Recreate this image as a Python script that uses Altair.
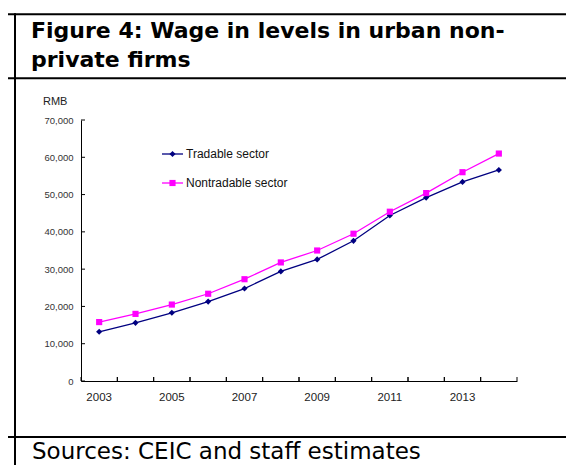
import altair as alt
import pandas as pd

# ---- data -------------------------------------------------------------
years = [2003, 2004, 2005, 2006, 2007, 2008, 2009, 2010, 2011, 2012, 2013, 2014]
tradable = [13200, 15600, 18300, 21300, 24800, 29400, 32600, 37600, 44400, 49200, 53400, 56600]
nontradable = [15800, 18000, 20500, 23400, 27300, 31800, 35000, 39500, 45400, 50400, 56000, 61000]
series_names = ["Tradable sector", "Nontradable sector"]
y_ticks = [0, 10000, 20000, 30000, 40000, 50000, 60000, 70000]

title_line1 = "Figure 4: Wage in levels in urban non-"
title_line2 = "private firms"
source_text = "Sources: CEIC and staff estimates"
unit_text = "RMB"

rows = []
for y, t, n in zip(years, tradable, nontradable):
    rows.append({"year": y, "series": series_names[0], "value": t})
    rows.append({"year": y, "series": series_names[1], "value": n})
df = pd.DataFrame(rows)
years_df = pd.DataFrame({"year": years})
yt_df = pd.DataFrame({"value": y_ticks})

NAVY = "#000080"
MAGENTA = "#FF00FF"
W, H = 436, 261
one = alt.Data(values=[{}])
SMALL = "Liberation Sans"
BIG = "DejaVu Sans"

xscale = alt.Scale(type="band", paddingInner=0, paddingOuter=0)
yscale = alt.Scale(domain=[0, 70000], nice=False)
color_scale = alt.Scale(domain=series_names, range=[NAVY, MAGENTA])
shape_scale = alt.Scale(domain=series_names, range=["diamond", "square"])

x_axis = alt.Axis(
    title=None, labelAngle=0, ticks=False, domainColor="black", domainWidth=1,
    labelFont=SMALL, labelFontSize=11.5, labelColor="#222222", labelPadding=10,
    labelExpr="datum.value % 2 == 1 ? datum.label : ''", labelOverlap=False, grid=False,
)
y_axis = alt.Axis(
    title=None, values=y_ticks, format=",.0f", ticks=False, grid=False,
    domainColor="black", domainWidth=1, labelFont=SMALL, labelFontSize=9.5,
    labelColor="#333333", labelPadding=8, labelOverlap=False,
)

lines = alt.Chart(df).mark_line(strokeWidth=1.3).encode(
    x=alt.X("year:O", scale=xscale, axis=x_axis, bandPosition=0.5),
    y=alt.Y("value:Q", scale=yscale, axis=y_axis),
    color=alt.Color("series:N", scale=color_scale, legend=None),
    detail="series:N",
)
points = alt.Chart(df).mark_point(filled=True, opacity=1, size=38).encode(
    x=alt.X("year:O", scale=xscale, axis=x_axis, bandPosition=0.5),
    y=alt.Y("value:Q", scale=yscale, axis=y_axis),
    color=alt.Color("series:N", scale=color_scale, legend=None),
    shape=alt.Shape("series:N", scale=shape_scale, legend=None),
)

# inward tick marks
xticks0 = alt.Chart(years_df).mark_rule(color="black", strokeWidth=1).encode(
    x=alt.X("year:O", scale=xscale, axis=x_axis, bandPosition=0), y=alt.value(H), y2=alt.value(H - 4)
)
xticks1 = alt.Chart(years_df).mark_rule(color="black", strokeWidth=1).encode(
    x=alt.X("year:O", scale=xscale, axis=x_axis, bandPosition=1), y=alt.value(H), y2=alt.value(H - 4)
)
yticks = alt.Chart(yt_df).mark_rule(color="black", strokeWidth=1).encode(
    y=alt.Y("value:Q", scale=yscale, axis=y_axis), x=alt.value(0), x2=alt.value(4)
)

# legend
legend_layers = []
for name, col, shp, ly in [(series_names[0], NAVY, "diamond", 34), (series_names[1], MAGENTA, "square", 63)]:
    legend_layers.append(alt.Chart(one).mark_rule(color=col, strokeWidth=1.3).encode(
        x=alt.value(81), x2=alt.value(102), y=alt.value(ly)))
    legend_layers.append(alt.Chart(one).mark_point(filled=True, opacity=1, color=col, shape=shp, size=38).encode(
        x=alt.value(91.5), y=alt.value(ly)))
    legend_layers.append(alt.Chart(one).mark_text(text=name, align="left", baseline="middle",
                                                  font=SMALL, fontSize=12, color="#111111").encode(
        x=alt.value(105), y=alt.value(ly)))

# frame and texts
def hline(y):
    return alt.Chart(one).mark_rule(color="black", strokeWidth=2).encode(
        x=alt.value(-90), x2=alt.value(W + 60), y=alt.value(y))

frame = [
    hline(-105.7), hline(-41.7), hline(317),
    alt.Chart(one).mark_rule(color="black", strokeWidth=2).encode(
        x=alt.value(-66), y=alt.value(-106.7), y2=alt.value(H + 95)),
]
texts = [
    alt.Chart(one).mark_text(text=title_line1, align="left", baseline="alphabetic", font=BIG,
                             fontWeight="bold", fontSize=22, color="black").encode(
        x=alt.value(-50), y=alt.value(-82)),
    alt.Chart(one).mark_text(text=title_line2, align="left", baseline="alphabetic", font=BIG,
                             fontWeight="bold", fontSize=22, color="black").encode(
        x=alt.value(-50), y=alt.value(-53.5)),
    alt.Chart(one).mark_text(text=source_text, align="left", baseline="alphabetic", font=BIG,
                             fontSize=23, color="black").encode(
        x=alt.value(-49), y=alt.value(338.5)),
    alt.Chart(one).mark_text(text=unit_text, align="left", baseline="alphabetic", font=SMALL,
                             fontSize=11, color="#222222").encode(
        x=alt.value(-38), y=alt.value(-15)),
]

chart = alt.layer(
    lines, points, xticks0, xticks1, yticks, *legend_layers, *frame, *texts
).properties(
    width=W, height=H,
    background="white",
    autosize=alt.AutoSizeParams(type="none"),
    padding={"left": 73, "top": 112, "right": 49, "bottom": 84},
).configure_view(strokeWidth=0, stroke="transparent")

chart.save("out.html", embed_options={"renderer": "svg", "actions": False})
